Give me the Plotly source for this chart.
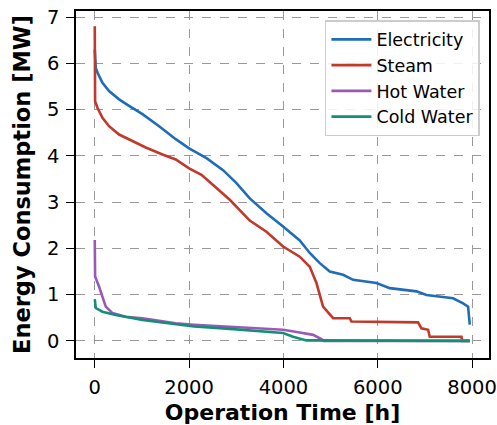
import plotly.graph_objects as go

# Operation time [h] and energy consumption [MW]
elec_t = [0, 21, 57, 163, 303, 515, 727, 1011, 1364, 1717, 2000, 2368, 2720, 3004, 3286, 3640, 3992, 4346, 4558,
          4770, 4982, 5265, 5477, 5972, 6254, 6820, 7032, 7596, 7809, 7915, 7950]
elec_y = [6.30, 5.90, 5.80, 5.58, 5.40, 5.22, 5.08, 4.90, 4.64, 4.36, 4.16, 3.95, 3.69, 3.41, 3.08, 2.76, 2.47, 2.17, 1.90,
          1.68, 1.50, 1.43, 1.32, 1.25, 1.14, 1.07, 0.99, 0.92, 0.81, 0.74, 0.35]

steam_t = [0, 7, 57, 163, 303, 515, 798, 1081, 1435, 1717, 2000, 2262, 2508, 2720, 2862, 3286, 3640, 3992, 4346,
           4558, 4700, 4840, 4982, 5053, 5406, 5441, 6854, 6925, 7067, 7102, 7774, 7790, 7950]
steam_y = [6.80, 5.18, 5.04, 4.82, 4.64, 4.46, 4.32, 4.18, 4.03, 3.92, 3.73, 3.59, 3.37, 3.19, 3.05, 2.60, 2.36, 2.04, 1.82,
           1.60, 1.25, 0.74, 0.56, 0.49, 0.49, 0.42, 0.40, 0.27, 0.24, 0.09, 0.09, 0.0, 0.0]

hot_t = [0, 7, 92, 163, 233, 375, 657, 1011, 1717, 2105, 2720, 3286, 3992, 4346, 4629, 4805, 4850, 7950]
hot_y = [2.18, 1.39, 1.17, 0.96, 0.74, 0.60, 0.52, 0.49, 0.38, 0.35, 0.31, 0.28, 0.24, 0.18, 0.13, 0.04, 0.0, 0.0]

cold_t = [0, 21, 163, 445, 1011, 1717, 2105, 2720, 3286, 3992, 4204, 4487, 7950]
cold_y = [0.90, 0.71, 0.63, 0.56, 0.45, 0.37, 0.31, 0.27, 0.23, 0.17, 0.09, 0.01, 0.0]

series = [
    ("Electricity", elec_t, elec_y, "#1F6DB8"),
    ("Steam", steam_t, steam_y, "#C0392B"),
    ("Hot Water", hot_t, hot_y, "#9B59B6"),
    ("Cold Water", cold_t, cold_y, "#148F77"),
]

x_ticks = [0, 2000, 4000, 6000, 8000]
y_ticks = [0, 1, 2, 3, 4, 5, 6, 7]

fig = go.Figure()
for name, t, y, color in series:
    fig.add_trace(go.Scatter(x=t, y=y, mode="lines", name=name,
                             line=dict(color=color, width=2.6)))

axis_common = dict(
    showline=True, mirror=True, linecolor="black", linewidth=1.5,
    ticks="outside", ticklen=8, tickwidth=1.2, tickcolor="black",
    showgrid=True, gridcolor="#999999", griddash="dash", gridwidth=1,
    zeroline=False, tickfont=dict(size=19.5, color="black"),
    automargin=False, ticklabeloverflow="allow",
)

fig.update_layout(
    width=497, height=425,
    margin=dict(l=76, r=8, t=11, b=67),
    paper_bgcolor="white", plot_bgcolor="white",
    font=dict(family="DejaVu Sans", color="black"),
    xaxis=dict(range=[-398, 8358], tickvals=x_ticks, ticklabelstandoff=3,
               title=dict(text="<b>Operation Time [h]</b>", font=dict(size=22), standoff=13),
               **axis_common),
    yaxis=dict(range=[-0.37, 7.13], tickvals=y_ticks, ticklabelstandoff=3,
               title=dict(text="<b>Energy Consumption [MW]</b>", font=dict(size=22.5), standoff=10),
               **axis_common),
    legend=dict(x=0.978, y=0.974, xanchor="right", yanchor="top",
                bgcolor="rgba(255,255,255,0.85)", bordercolor="#cccccc", borderwidth=1.5,
                font=dict(size=17.5), tracegroupgap=0, itemwidth=40),
    showlegend=True,
)

# remove the browser's default 8px body margin so the figure fills the window exactly
fig.write_html("out.html", config={"displayModeBar": False},
               post_script="document.body.style.margin='0';")
